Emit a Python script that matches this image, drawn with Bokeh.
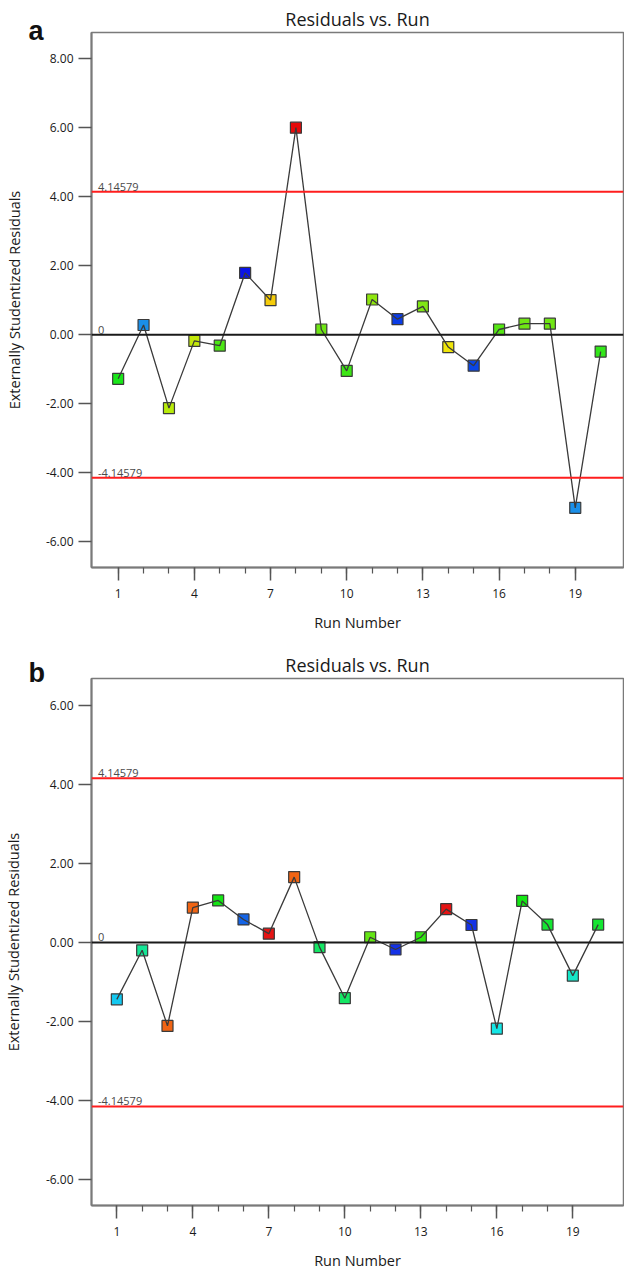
from bokeh.plotting import figure
from bokeh.models import (Range1d, FixedTicker, PrintfTickFormatter, Span, Label,
                          Title, ColumnDataSource)
from bokeh.layouts import column
from bokeh.embed import file_html
from bokeh.resources import INLINE

# ---------------- data ----------------
runs = list(range(1, 21))
resid_a = [-1.28, 0.28, -2.13, -0.18, -0.32, 1.79, 1.00, 6.00, 0.15, -1.05,
           1.02, 0.45, 0.82, -0.36, -0.90, 0.15, 0.32, 0.32, -5.02, -0.49]
colors_a = ["#19e619", "#1a8fe8", "#b8eb0a", "#c3e80a", "#4ce614", "#0a14e6",
            "#f5cc0a", "#e60a0a", "#6ee614", "#3ce614", "#8fe60f", "#0a3ce6",
            "#80e614", "#f0e60a", "#0a46e6", "#55e614", "#70e614", "#70e614",
            "#1a8fe8", "#32e619"]
resid_b = [-1.44, -0.20, -2.11, 0.88, 1.06, 0.58, 0.22, 1.65, -0.12, -1.41,
           0.13, -0.18, 0.13, 0.84, 0.44, -2.18, 1.05, 0.45, -0.84, 0.45]
colors_b = ["#14c8f0", "#14e696", "#f06414", "#f06414", "#14e614", "#1464e6",
            "#e61414", "#f06414", "#14e664", "#14e664", "#64e614", "#1432e6",
            "#32e614", "#e61414", "#1432e6", "#14e6e6", "#14e614", "#14e632",
            "#14e6c8", "#14e632"]
limit = 4.14579
limit_labels = ["4.14579", "0", "-4.14579"]
x_major = [1, 4, 7, 10, 13, 16, 19]
x_minor = list(range(1, 20))
y_ticks_a = [-6, -4, -2, 0, 2, 4, 6, 8]
y_ticks_b = [-6, -4, -2, 0, 2, 4, 6]
title_text = "Residuals vs. Run"
x_title = "Run Number"
y_title = "Externally Studentized Residuals"

FONT = "Open Sans"
W = 624
BL = 90
BR = 1


def make_panel(letter, resid, colors, x_rng, y_rng, y_ticks, height, b_top, b_bot,
               xlab_standoff, letter_base):
    p = figure(width=W, height=height, output_backend="svg", toolbar_location=None,
               x_range=Range1d(*x_rng), y_range=Range1d(*y_rng),
               min_border_left=BL, min_border_right=BR,
               min_border_top=b_top, min_border_bottom=b_bot)
    p.xgrid.visible = False
    p.ygrid.visible = False
    p.outline_line_color = "#7a7a7a"
    p.outline_line_width = 1.5
    p.background_fill_color = "white"
    p.border_fill_color = "white"

    # title
    p.title.text = title_text
    p.title.align = "center"
    p.title.text_font = FONT
    p.title.text_font_size = "18px"
    p.title.text_font_style = "normal"
    p.title.text_color = "#1a1a1a"
    p.title.standoff = 4

    # axes
    p.xaxis.ticker = FixedTicker(ticks=x_major, minor_ticks=x_minor)
    p.yaxis.ticker = FixedTicker(ticks=y_ticks)
    p.yaxis.formatter = PrintfTickFormatter(format="%.2f")
    for ax in (p.xaxis[0], p.yaxis[0]):
        ax.axis_line_color = "#7a7a7a"
        ax.axis_line_width = 2
        ax.major_tick_line_color = "#555555"
        ax.major_tick_line_width = 1.5
        ax.major_tick_out = 13
        ax.major_tick_in = 0
        ax.minor_tick_line_color = "#555555"
        ax.minor_tick_line_width = 1.2
        ax.minor_tick_out = 6
        ax.minor_tick_in = 0
        ax.major_label_text_font = FONT
        ax.major_label_text_font_size = "12px"
        ax.major_label_text_color = "#1a1a1a"
        ax.axis_label_text_font = FONT
        ax.axis_label_text_font_size = "14.5px"
        ax.axis_label_text_font_style = "normal"
        ax.axis_label_text_color = "#1a1a1a"
    p.yaxis.minor_tick_line_color = None
    p.xaxis.axis_label = x_title
    p.xaxis.major_label_standoff = 8
    p.yaxis.major_label_standoff = 5
    p.xaxis.axis_label_standoff = xlab_standoff

    fh = height - b_top - b_bot
    px = (y_rng[1] - y_rng[0]) / fh  # data units per pixel

    # reference lines
    for v, col in ((limit, "#ff1e1e"), (0, "#1a1a1a"), (-limit, "#ff1e1e")):
        p.add_layout(Span(location=v, dimension="width", line_color=col,
                          line_width=2))
    for v, txt in zip((limit, 0, -limit), limit_labels):
        p.add_layout(Label(x=x_rng[0], y=v + 5 * px, text=txt, x_offset=6.5,
                           text_font=FONT, text_font_size="11px",
                           text_color="#4a4a4a", text_baseline="alphabetic"))

    src = ColumnDataSource(dict(x=runs, y=resid, c=colors))
    p.scatter("x", "y", source=src, marker="square", size=11,
              fill_color="c", line_color="#3a3a3a", line_width=1.2)
    p.line("x", "y", source=src, line_color="#3a3a3a", line_width=1.3)

    # panel letter, drawn in the left border area (inner slot)
    p.add_layout(Label(x=28, y=letter_base, x_units="canvas", y_units="canvas",
                       text=letter, text_align="left",
                       text_baseline="alphabetic", text_font="Liberation Sans",
                       text_font_style="bold", text_font_size="27px",
                       text_color="#111111"), "left")
    # y-axis title as a rotated side title (outer slot)
    p.add_layout(Title(text=y_title, align="center", vertical_align="middle",
                       text_font=FONT, text_font_size="14.5px",
                       text_font_style="normal", text_color="#1a1a1a",
                       standoff=5), "left")
    return p


p1 = make_panel("a", resid_a, colors_a, (-0.05, 20.9), (-6.75, 8.76), y_ticks_a,
                637, 32, 70, 12, 30)
p2 = make_panel("b", resid_b, colors_b, (0, 21), (-6.65, 6.67), y_ticks_b,
                635, 41, 63, 12, 35)

layout = column(p1, p2, spacing=0)
open("out.html", "w").write(file_html(layout, INLINE))
